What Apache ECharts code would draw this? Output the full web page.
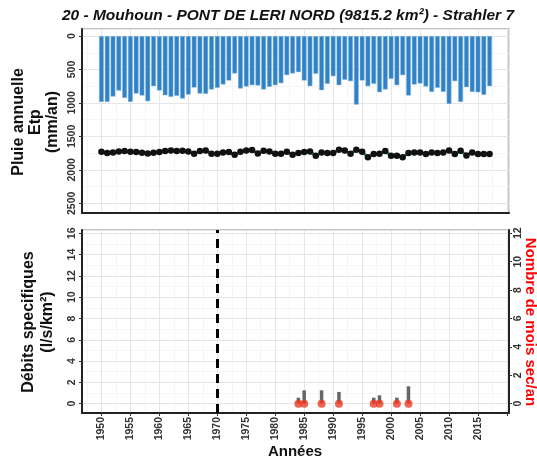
<!DOCTYPE html>
<html><head><meta charset="utf-8">
<script src="https://cdn.jsdelivr.net/npm/echarts@6/dist/echarts.min.js"></script>
<style>html,body{margin:0;padding:0;background:#fff}#c{width:537px;height:461px}</style>
</head><body><div id="c"></div>
<script>
const years = [1950,1951,1952,1953,1954,1955,1956,1957,1958,1959,1960,1961,1962,1963,1964,1965,1966,1967,1968,1969,1970,1971,1972,1973,1974,1975,1976,1977,1978,1979,1980,1981,1982,1983,1984,1985,1986,1987,1988,1989,1990,1991,1992,1993,1994,1995,1996,1997,1998,1999,2000,2001,2002,2003,2004,2005,2006,2007,2008,2009,2010,2011,2012,2013,2014,2015,2016,2017];
const rain = [985,985,905,815,925,985,860,890,975,750,815,885,910,895,935,875,770,860,865,800,775,725,665,560,785,755,735,740,800,760,735,705,585,
  560,540,665,750,565,810,715,600,735,655,675,1025,665,750,715,840,800,640,735,585,890,725,710,755,835,775,835,1015,675,985,765,835,840,880,750];
const etp = [1730,1750,1740,1725,1720,1730,1735,1745,1755,1745,1735,1720,1710,1720,1715,1725,1760,1720,1710,1760,1760,1740,1735,1775,1730,1710,1705,1755,1715,1725,1760,1760,1730,
  1775,1750,1735,1725,1790,1740,1750,1750,1700,1710,1760,1700,1730,1810,1765,1760,1720,1790,1790,1810,1750,1740,1740,1765,1740,1750,1740,1710,1765,1715,1785,1740,1765,1765,1765];
const qYears = [1984,1985,1988,1991,1997,1998,2001,2003];
const qValues = [0.56,1.25,1.25,1.1,0.56,0.78,0.56,1.63];
const drySec = [0,0,0,0,0,0,0,0];
const ruptureYear = 1970;
const xTickLabels = [1950,1955,1960,1965,1970,1975,1980,1985,1990,1995,2000,2005,2010,2015];

const chart = echarts.init(document.getElementById('c'));
const FONT = 'Liberation Sans, Arial, sans-serif';
const gridMajor = {show:true, lineStyle:{color:'#e6e6e6', width:1}};
const gridMinor = {show:true, lineStyle:{color:'#f3f3f3', width:0.8}};
const xCommon = {
  type:'value', min:1946.65, max:2020.35, splitNumber:14,
  splitLine: gridMajor, minorTick:{show:false, splitNumber:2}, minorSplitLine: gridMinor
};
const lab = (step) => (v) => (Math.abs(v/step - Math.round(v/step))<1e-6 ? String(Math.round(v)) : '');

chart.setOption({
  animation:false,
  title:{text:'20 - Mouhoun - PONT DE LERI NORD (9815.2 km²) - Strahler 7', left:283, top:3, textAlign:'center',
    textStyle:{fontFamily:FONT, fontSize:15.5, fontWeight:'bold', fontStyle:'italic', color:'#111'}},
  grid:[
    {left:82, top:29, width:427, height:184, show:true, borderColor:'#b0b0b0', borderWidth:1.5, backgroundColor:'#fff'},
    {left:82, top:230, width:427, height:183, show:true, borderColor:'#b0b0b0', borderWidth:1.5, backgroundColor:'#fff'}
  ],
  xAxis:[
    Object.assign({}, xCommon, {gridIndex:0, axisLine:{show:true, onZero:false, lineStyle:{color:'#222', width:2}},
      axisTick:{show:false}, axisLabel:{show:false}}),
    Object.assign({}, xCommon, {gridIndex:1, axisLine:{show:true, onZero:false, lineStyle:{color:'#222', width:2}},
      axisTick:{show:true, length:3, lineStyle:{color:'#333'}},
      axisLabel:{rotate:90, fontFamily:FONT, fontSize:10.5, fontWeight:'bold', color:'#333', margin:4,
        formatter: (v) => (xTickLabels.indexOf(Math.round(v)) >= 0 && Math.abs(v - Math.round(v)) < 1e-6 ? String(Math.round(v)) : ''),
        showMinLabel:false, showMaxLabel:false}})
  ],
  yAxis:[
    {type:'value', gridIndex:0, inverse:true, min:-105, max:2645, splitNumber:5,
      axisLine:{show:true, onZero:false, lineStyle:{color:'#222', width:2}}, axisTick:{show:true, length:3, lineStyle:{color:'#333'}},
      axisLabel:{rotate:90, fontFamily:FONT, fontSize:10.5, fontWeight:'bold', color:'#333', margin:4, formatter: lab(500),
        showMinLabel:false, showMaxLabel:false},
      splitLine: gridMajor, minorTick:{show:false, splitNumber:2}, minorSplitLine: gridMinor},
    {type:'value', gridIndex:1, min:-0.88, max:16.31, splitNumber:8,
      axisLine:{show:true, onZero:false, lineStyle:{color:'#222', width:2}}, axisTick:{show:true, length:3, lineStyle:{color:'#333'}},
      axisLabel:{rotate:90, fontFamily:FONT, fontSize:10.5, fontWeight:'bold', color:'#333', margin:4, formatter: lab(2),
        showMinLabel:false, showMaxLabel:false},
      splitLine: gridMajor, minorTick:{show:false, splitNumber:2}, minorSplitLine: gridMinor},
    {type:'value', gridIndex:1, position:'right', min:-0.66, max:12.23, splitNumber:6,
      axisLine:{show:true, onZero:false, lineStyle:{color:'#222', width:2}}, axisTick:{show:true, length:3, lineStyle:{color:'#333'}},
      axisLabel:{rotate:90, fontFamily:FONT, fontSize:10.5, fontWeight:'bold', color:'#333', margin:4, formatter: lab(2),
        showMinLabel:false, showMaxLabel:false},
      splitLine:{show:false}}
  ],
  series:[
    {type:'bar', xAxisIndex:0, yAxisIndex:0, barWidth:4.8, data: years.map((y,i)=>[y, rain[i]]),
      itemStyle:{color:'#3182c4', borderColor:'#8dbde3', borderWidth:0.5}},
    {type:'line', xAxisIndex:0, yAxisIndex:0, data: years.map((y,i)=>[y, etp[i]]),
      lineStyle:{color:'#2ca25f', width:3}, symbol:'circle', symbolSize:6.5, showSymbol:true,
      itemStyle:{color:'#111', borderColor:'#111', borderWidth:0}},
    {type:'bar', xAxisIndex:1, yAxisIndex:1, barWidth:3.5, data: qYears.map((y,i)=>[y, qValues[i]]),
      itemStyle:{color:'#666'},
      markLine:{silent:true, symbol:'none', label:{show:false},
        lineStyle:{color:'#000', width:3, type:[9,6]}, data:[{xAxis:ruptureYear}]}},
    {type:'scatter', xAxisIndex:1, yAxisIndex:2, data: qYears.map((y,i)=>[y, drySec[i]]),
      symbolSize:8, itemStyle:{color:'#ee3b24'}}
  ],
  graphic:[
    {type:'text', x:36, y:122, rotation:Math.PI/2,
      style:{text:'Pluie annuelle\nEtp\n(mm/an)', fontFamily:FONT, fontSize:16, fontWeight:'bold', fill:'#111', align:'center', verticalAlign:'middle', lineHeight:17}},
    {type:'text', x:38, y:322, rotation:Math.PI/2,
      style:{text:'Débits specifiques\n(l/s/km²)', fontFamily:FONT, fontSize:16, fontWeight:'bold', fill:'#111', align:'center', verticalAlign:'middle', lineHeight:19}},
    {type:'text', x:530, y:322, rotation:-Math.PI/2,
      style:{text:'Nombre de mois sec/an', fontFamily:FONT, fontSize:15, fontWeight:'bold', fill:'#ff0000', align:'center', verticalAlign:'middle'}},
    {type:'text', x:295, y:452,
      style:{text:'Années', fontFamily:FONT, fontSize:15, fontWeight:'bold', fill:'#111', align:'center', verticalAlign:'middle'}}
  ]
});
</script></body></html>
